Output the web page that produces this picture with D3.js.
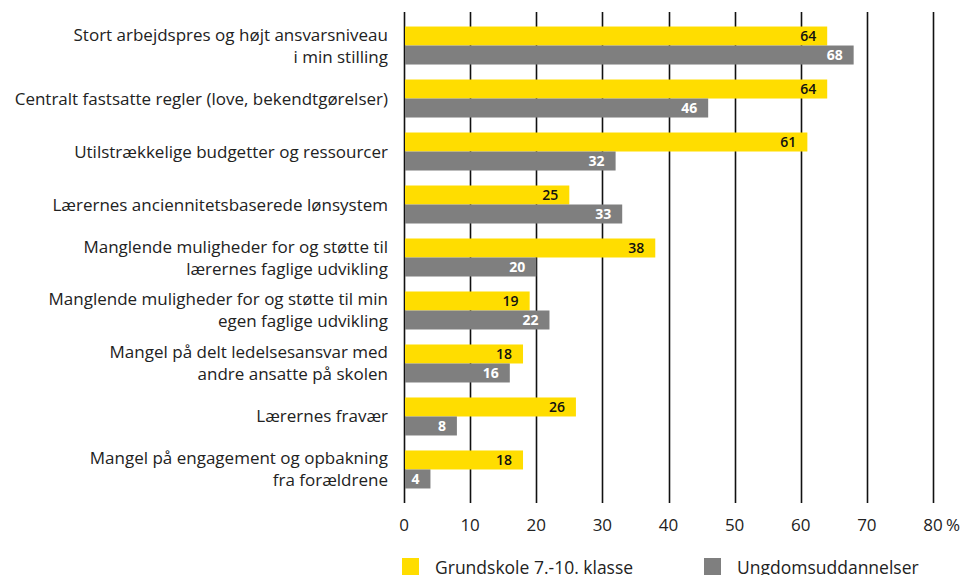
<!DOCTYPE html>
<html>
<head>
<meta charset="utf-8">
<script src="https://cdn.jsdelivr.net/npm/d3@7"></script>
<style>
  html, body { margin: 0; padding: 0; background: #fff; }
  svg { display: block; font-family: "Open Sans", "Noto Sans", sans-serif; }
</style>
</head>
<body>
<svg id="chart" width="962" height="575"></svg>
<script>
// Categories (each entry is a list of label lines)
const categories = [
  ["Stort arbejdspres og højt ansvarsniveau", "i min stilling"],
  ["Centralt fastsatte regler (love, bekendtgørelser)"],
  ["Utilstrækkelige budgetter og ressourcer"],
  ["Lærernes anciennitetsbaserede lønsystem"],
  ["Manglende muligheder for og støtte til", "lærernes faglige udvikling"],
  ["Manglende muligheder for og støtte til min", "egen faglige udvikling"],
  ["Mangel på delt ledelsesansvar med", "andre ansatte på skolen"],
  ["Lærernes fravær"],
  ["Mangel på engagement og opbakning", "fra forældrene"]
];
const seriesNames = ["Grundskole 7.-10. klasse", "Ungdomsuddannelser"];
const grundskole = [64, 64, 61, 25, 38, 19, 18, 26, 18];
const ungdom = [68, 46, 32, 33, 20, 22, 16, 8, 4];
const tickValues = [0, 10, 20, 30, 40, 50, 60, 70, 80];
const tickLabels = ["0", "10", "20", "30", "40", "50", "60", "70", "80"];
const unitLabel = "%";

const colors = ["#FFDD00", "#7F7F7F"];
const labelColors = ["#111", "#fff"];

const svg = d3.select("#chart");
const x = d3.scaleLinear().domain([0, 80]).range([404, 933]);
const y = d3.scaleBand()
  .domain(d3.range(categories.length))
  .range([12, 503])
  .paddingInner(0.283)
  .paddingOuter(0.274);
const sub = d3.scaleBand().domain([0, 1]).range([0, y.bandwidth()]);

// Vertical gridlines
svg.append("g")
  .selectAll("line")
  .data(tickValues)
  .join("line")
  .attr("x1", d => Math.round(x(d)) + 0.5)
  .attr("x2", d => Math.round(x(d)) + 0.5)
  .attr("y1", 12)
  .attr("y2", 503)
  .attr("stroke", "#111")
  .attr("stroke-width", 1.6);

// Tick labels
svg.append("g")
  .selectAll("text")
  .data(tickValues)
  .join("text")
  .attr("x", d => x(d))
  .attr("y", 531)
  .attr("text-anchor", "middle")
  .attr("font-size", 17)
  .attr("fill", "#222")
  .text((d, i) => tickLabels[i]);
svg.append("text")
  .attr("x", x(80) + 13)
  .attr("y", 531)
  .attr("font-size", 17)
  .attr("fill", "#222")
  .text(unitLabel);

// Bars
const rows = categories.map((c, i) => ({ i, vals: [grundskole[i], ungdom[i]] }));
const groups = svg.append("g")
  .selectAll("g")
  .data(rows)
  .join("g")
  .attr("transform", d => `translate(0,${y(d.i)})`);

groups.selectAll("rect")
  .data(d => d.vals.map((v, s) => ({ v, s })))
  .join("rect")
  .attr("x", x(0) + 1)
  .attr("y", d => sub(d.s))
  .attr("width", d => x(d.v) - x(0) - 1)
  .attr("height", sub.bandwidth())
  .attr("fill", d => colors[d.s]);

groups.selectAll("text.val")
  .data(d => d.vals.map((v, s) => ({ v, s })))
  .join("text")
  .attr("class", "val")
  .attr("x", d => x(d.v) - 11)
  .attr("y", d => sub(d.s) + sub.bandwidth() / 2 + 5)
  .attr("text-anchor", "end")
  .attr("font-size", 14)
  .attr("font-weight", d => d.s === 1 ? 700 : 600)
  .attr("fill", d => labelColors[d.s])
  .text(d => d.v);

// Category labels
const lineH = 22;
svg.append("g")
  .selectAll("text")
  .data(categories)
  .join("text")
  .attr("text-anchor", "end")
  .attr("font-size", 17)
  .attr("fill", "#222")
  .each(function (lines, i) {
    const cy = y(i) + y.bandwidth() / 2;
    const top = cy - (lines.length - 1) * lineH / 2 + 6;
    d3.select(this).selectAll("tspan")
      .data(lines)
      .join("tspan")
      .attr("x", 388)
      .attr("y", (d, k) => top + k * lineH)
      .text(d => d);
  });

// Legend
const legend = svg.append("g")
  .selectAll("g")
  .data(seriesNames)
  .join("g")
  .attr("transform", (d, i) => `translate(${i === 0 ? 402 : 704},558)`);
legend.append("rect")
  .attr("width", 17)
  .attr("height", 17)
  .attr("fill", (d, i) => colors[i]);
legend.append("text")
  .attr("x", 33)
  .attr("y", 16)
  .attr("font-size", 17.5)
  .attr("fill", "#222")
  .text(d => d);
</script>
</body>
</html>
